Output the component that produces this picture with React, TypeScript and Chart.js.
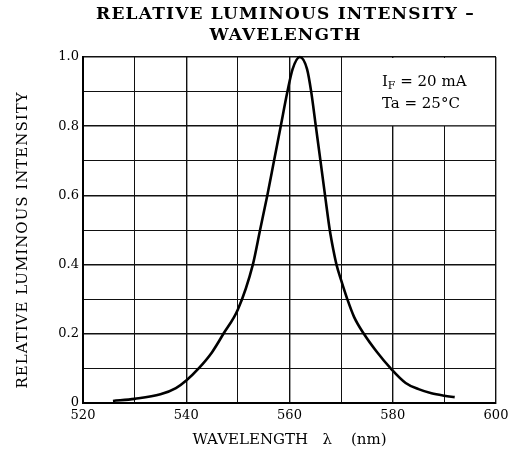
import React, { useEffect, useRef } from "react";
import { Chart, registerables } from "chart.js";

Chart.register(...registerables);

const wavelength = [525.8, 530, 535, 538, 540, 542.4, 545, 547.2, 550, 552.9, 554.3, 555.7, 557, 558.3, 559.6, 560.6, 562, 563.4, 564.2, 565.1, 566, 567, 567.8, 568.5, 569.1, 570, 571.2, 572.5, 574.4, 576.9, 579.6, 582.5, 585, 587.5, 590, 592];
const intensity = [0.006, 0.012, 0.025, 0.043, 0.065, 0.1, 0.147, 0.2, 0.27, 0.4, 0.5, 0.6, 0.7, 0.8, 0.9, 0.965, 1.0, 0.965, 0.9, 0.8, 0.7, 0.587, 0.5, 0.442, 0.4, 0.355, 0.3, 0.249, 0.2, 0.148, 0.1, 0.058, 0.04, 0.028, 0.021, 0.017];

const titleLines = ["RELATIVE LUMINOUS INTENSITY \u2013", "WAVELENGTH"];
const xTitle = "WAVELENGTH   \u03bb    (nm)";
const yTitle = "RELATIVE LUMINOUS INTENSITY";
const noteMain = "I";
const noteSub = "F";
const noteRest = " = 20 mA";
const noteLine2 = "Ta = 25\u00b0C";

const FONT = "'DejaVu Serif', serif";

const textPlugin = {
  id: "texts",
  beforeDatasetsDraw(chart: any) {
    const { ctx, chartArea, scales } = chart;
    const x = scales.x;
    const y = scales.y;
    const left = x.getPixelForValue(570) + 1;
    const bottom = y.getPixelForValue(0.8) - 1;
    ctx.save();
    ctx.fillStyle = "#fff";
    ctx.fillRect(left, chartArea.top + 1, chartArea.right - 1 - left, bottom - chartArea.top - 1);
    ctx.fillStyle = "#000";
    ctx.textBaseline = "alphabetic";
    ctx.textAlign = "left";
    const tx = x.getPixelForValue(577.9);
    const y1 = y.getPixelForValue(0.915);
    const y2 = y.getPixelForValue(0.852);
    ctx.font = `15px ${FONT}`;
    ctx.fillText(noteMain, tx, y1);
    let w = ctx.measureText(noteMain).width;
    ctx.font = `11px ${FONT}`;
    ctx.fillText(noteSub, tx + w, y1 + 3);
    w += ctx.measureText(noteSub).width;
    ctx.font = `15px ${FONT}`;
    ctx.fillText(noteRest, tx + w, y1);
    ctx.fillText(noteLine2, tx, y2);
    ctx.restore();
  },
  afterDraw(chart: any) {
    const { ctx, chartArea } = chart;
    ctx.save();
    ctx.fillStyle = "#000";
    ctx.textAlign = "center";
    ctx.textBaseline = "middle";
    ctx.font = `bold 17px ${FONT}`;
    try { (ctx as any).letterSpacing = "1.2px"; } catch (e) {}
    const cx = (chartArea.left + chartArea.right) / 2 - 4;
    ctx.fillText(titleLines[0], cx, chartArea.top - 42);
    ctx.fillText(titleLines[1], cx, chartArea.top - 21);
    ctx.font = `15px ${FONT}`;
    try { (ctx as any).letterSpacing = "1px"; } catch (e) {}
    ctx.translate(23.5, (chartArea.top + chartArea.bottom) / 2 + 10);
    ctx.rotate(-Math.PI / 2);
    ctx.fillText(yTitle, 0, 0);
    ctx.restore();
  },
};

export default function App() {
  const ref = useRef<HTMLCanvasElement | null>(null);
  useEffect(() => {
    if (!ref.current) return;
    const points = wavelength.map((w, i) => ({ x: w, y: intensity[i] }));
    const chart = new Chart(ref.current, {
      type: "line",
      data: {
        datasets: [
          {
            data: points,
            borderColor: "#000",
            borderWidth: 2.6,
            pointRadius: 0,
            fill: false,
            cubicInterpolationMode: "monotone",
            clip: false as any,
          },
        ],
      },
      options: {
        responsive: false,
        animation: false,
        layout: { padding: { left: 0, right: 0, top: 57, bottom: 0 } },
        plugins: {
          legend: { display: false },
          tooltip: { enabled: false },
          title: { display: false },
        },
        scales: {
          x: {
            type: "linear",
            min: 520,
            max: 600,
            afterFit: (s: any) => {
              s.height = 58;
              s.paddingLeft = 0;
              s.paddingRight = 14;
            },
            ticks: {
              stepSize: 10,
              autoSkip: false,
              maxRotation: 0,
              padding: 5,
              color: "#000",
              font: { family: FONT, size: 13 },
              callback: (v: any) => (Math.round(v) % 20 === 0 ? String(Math.round(v)) : ""),
            },
            grid: {
              drawTicks: false,
              color: "#111",
              lineWidth: (c: any) => (c.tick && Math.round(c.tick.value) % 20 === 0 ? 1.4 : 1),
            },
            border: { display: true, color: "#000", width: 2 },
            title: {
              display: true,
              text: xTitle,
              color: "#000",
              font: { family: FONT, size: 15 },
              padding: { top: 0, bottom: 12 },
            },
          },
          y: {
            type: "linear",
            min: 0,
            max: 1,
            afterFit: (s: any) => {
              s.width = 83;
            },
            ticks: {
              stepSize: 0.1,
              autoSkip: false,
              padding: 4,
              color: "#000",
              font: { family: FONT, size: 13 },
              callback: (v: any) => {
                const t = Math.round(v * 10);
                if (t % 2 !== 0) return "";
                return t === 0 ? "0" : (t / 10).toFixed(1);
              },
            },
            grid: {
              drawTicks: false,
              color: "#111",
              lineWidth: (c: any) => (c.tick && Math.round(c.tick.value * 10) % 2 === 0 ? 1.4 : 1),
            },
            border: { display: true, color: "#000", width: 2 },
          },
        },
      },
      plugins: [textPlugin],
    });
    return () => chart.destroy();
  }, []);
  return (
    <div style={{ position: "fixed", left: 0, top: 0, width: 510, height: 461, background: "#fff" }}>
      <canvas ref={ref} width={510} height={461} style={{ width: 510, height: 461 }} />
    </div>
  );
}
